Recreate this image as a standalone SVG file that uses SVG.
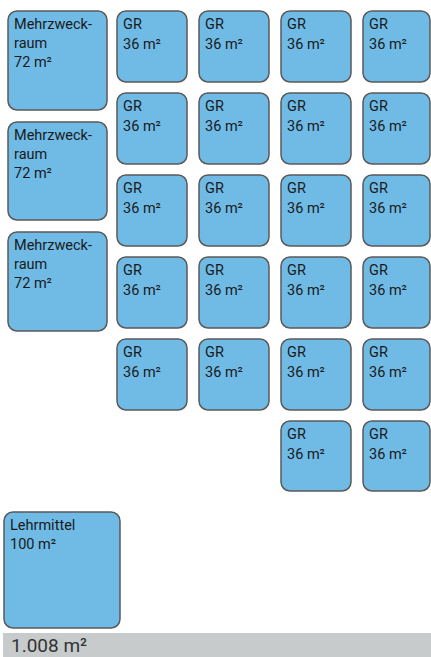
<svg xmlns="http://www.w3.org/2000/svg" width="431" height="657" viewBox="0 0 431 657">
<style>
.r{fill:#6fbbe6;stroke:#5a5a5a;stroke-width:1.5}
.t{font-family:Roboto,"Liberation Sans",sans-serif;font-size:14.5px;fill:#1a1a1a}
.b{font-family:Roboto,"Liberation Sans",sans-serif;font-size:19px;fill:#333}
</style>
<rect width="431" height="657" fill="#fff"/>
<g id="mz1"><rect class="r" x="8" y="11" width="99" height="99" rx="9"/><text class="t" x="14" y="29">Mehrzweck-</text><text class="t" x="14" y="48">raum</text><text class="t" x="14" y="67">72 m²</text></g>
<g id="mz2"><rect class="r" x="8" y="122" width="99" height="98" rx="9"/><text class="t" x="14" y="140">Mehrzweck-</text><text class="t" x="14" y="159">raum</text><text class="t" x="14" y="178">72 m²</text></g>
<g id="mz3"><rect class="r" x="8" y="232" width="99" height="99" rx="9"/><text class="t" x="14" y="250">Mehrzweck-</text><text class="t" x="14" y="269">raum</text><text class="t" x="14" y="288">72 m²</text></g>
<g id="gr-1-1"><rect class="r" x="117" y="11" width="70" height="71" rx="9"/><text class="t" x="123" y="29">GR</text><text class="t" x="123" y="49">36 m²</text></g>
<g id="gr-1-2"><rect class="r" x="199" y="11" width="70" height="71" rx="9"/><text class="t" x="205" y="29">GR</text><text class="t" x="205" y="49">36 m²</text></g>
<g id="gr-1-3"><rect class="r" x="281" y="11" width="70" height="71" rx="9"/><text class="t" x="287" y="29">GR</text><text class="t" x="287" y="49">36 m²</text></g>
<g id="gr-1-4"><rect class="r" x="363" y="11" width="67" height="71" rx="9"/><text class="t" x="369" y="29">GR</text><text class="t" x="369" y="49">36 m²</text></g>
<g id="gr-2-1"><rect class="r" x="117" y="93" width="70" height="71" rx="9"/><text class="t" x="123" y="111">GR</text><text class="t" x="123" y="131">36 m²</text></g>
<g id="gr-2-2"><rect class="r" x="199" y="93" width="70" height="71" rx="9"/><text class="t" x="205" y="111">GR</text><text class="t" x="205" y="131">36 m²</text></g>
<g id="gr-2-3"><rect class="r" x="281" y="93" width="70" height="71" rx="9"/><text class="t" x="287" y="111">GR</text><text class="t" x="287" y="131">36 m²</text></g>
<g id="gr-2-4"><rect class="r" x="363" y="93" width="67" height="71" rx="9"/><text class="t" x="369" y="111">GR</text><text class="t" x="369" y="131">36 m²</text></g>
<g id="gr-3-1"><rect class="r" x="117" y="175" width="70" height="71" rx="9"/><text class="t" x="123" y="193">GR</text><text class="t" x="123" y="213">36 m²</text></g>
<g id="gr-3-2"><rect class="r" x="199" y="175" width="70" height="71" rx="9"/><text class="t" x="205" y="193">GR</text><text class="t" x="205" y="213">36 m²</text></g>
<g id="gr-3-3"><rect class="r" x="281" y="175" width="70" height="71" rx="9"/><text class="t" x="287" y="193">GR</text><text class="t" x="287" y="213">36 m²</text></g>
<g id="gr-3-4"><rect class="r" x="363" y="175" width="67" height="71" rx="9"/><text class="t" x="369" y="193">GR</text><text class="t" x="369" y="213">36 m²</text></g>
<g id="gr-4-1"><rect class="r" x="117" y="257" width="70" height="71" rx="9"/><text class="t" x="123" y="275">GR</text><text class="t" x="123" y="295">36 m²</text></g>
<g id="gr-4-2"><rect class="r" x="199" y="257" width="70" height="71" rx="9"/><text class="t" x="205" y="275">GR</text><text class="t" x="205" y="295">36 m²</text></g>
<g id="gr-4-3"><rect class="r" x="281" y="257" width="70" height="71" rx="9"/><text class="t" x="287" y="275">GR</text><text class="t" x="287" y="295">36 m²</text></g>
<g id="gr-4-4"><rect class="r" x="363" y="257" width="67" height="71" rx="9"/><text class="t" x="369" y="275">GR</text><text class="t" x="369" y="295">36 m²</text></g>
<g id="gr-5-1"><rect class="r" x="117" y="339" width="70" height="71" rx="9"/><text class="t" x="123" y="357">GR</text><text class="t" x="123" y="377">36 m²</text></g>
<g id="gr-5-2"><rect class="r" x="199" y="339" width="70" height="71" rx="9"/><text class="t" x="205" y="357">GR</text><text class="t" x="205" y="377">36 m²</text></g>
<g id="gr-5-3"><rect class="r" x="281" y="339" width="70" height="71" rx="9"/><text class="t" x="287" y="357">GR</text><text class="t" x="287" y="377">36 m²</text></g>
<g id="gr-5-4"><rect class="r" x="363" y="339" width="67" height="71" rx="9"/><text class="t" x="369" y="357">GR</text><text class="t" x="369" y="377">36 m²</text></g>
<g id="gr-6-3"><rect class="r" x="281" y="421" width="70" height="70" rx="9"/><text class="t" x="287" y="439">GR</text><text class="t" x="287" y="459">36 m²</text></g>
<g id="gr-6-4"><rect class="r" x="363" y="421" width="67" height="70" rx="9"/><text class="t" x="369" y="439">GR</text><text class="t" x="369" y="459">36 m²</text></g>
<g id="lehrmittel"><rect class="r" x="4" y="512" width="116" height="116" rx="9"/><text class="t" x="10" y="530">Lehrmittel</text><text class="t" x="10" y="549">100 m²</text></g>
<g id="total"><rect x="3" y="633" width="428" height="24" fill="#c8cbcb"/><text class="b" x="11" y="652">1.008 m²</text></g>
</svg>
